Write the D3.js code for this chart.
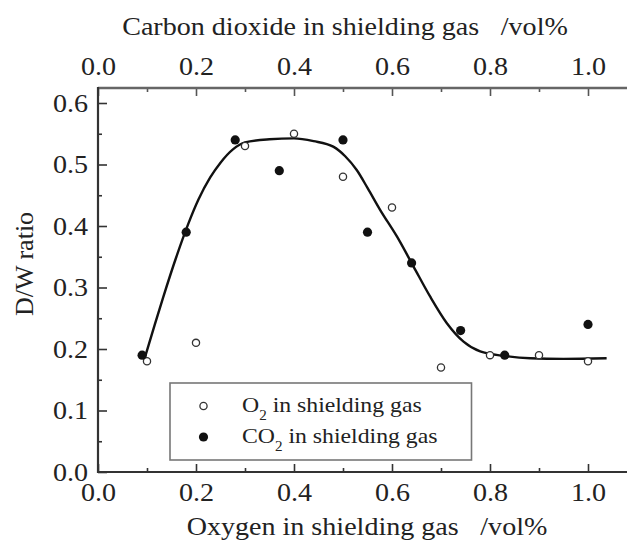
<!DOCTYPE html>
<html>
<head>
<meta charset="utf-8">
<script src="https://cdn.jsdelivr.net/npm/d3@7"></script>
<style>
  html, body { margin: 0; padding: 0; background: #fff; }
  svg { display: block; }
  text { font-family: "Liberation Serif", "Times New Roman", serif; fill: #222; }
</style>
</head>
<body>
<script>
// ---- data ----
const o2X = [0.1, 0.2, 0.3, 0.4, 0.5, 0.6, 0.7, 0.8, 0.9, 1.0];
const o2Y = [0.18, 0.21, 0.53, 0.55, 0.48, 0.43, 0.17, 0.19, 0.19, 0.18];
const co2X = [0.09, 0.18, 0.28, 0.37, 0.5, 0.55, 0.64, 0.74, 0.83, 1.0];
const co2Y = [0.19, 0.39, 0.54, 0.49, 0.54, 0.39, 0.34, 0.23, 0.19, 0.24];
const fitX = [0.096, 0.116, 0.133, 0.16, 0.184, 0.205, 0.229, 0.25, 0.276, 0.30, 0.35, 0.40, 0.44, 0.48, 0.505, 0.528, 0.55, 0.576, 0.61, 0.644, 0.678, 0.712, 0.746, 0.78, 0.827, 0.882, 0.95, 1.038];
const fitY = [0.187, 0.24, 0.284, 0.35, 0.403, 0.443, 0.479, 0.503, 0.525, 0.536, 0.541, 0.5425, 0.538, 0.529, 0.513, 0.491, 0.462, 0.426, 0.383, 0.334, 0.285, 0.242, 0.212, 0.196, 0.189, 0.185, 0.184, 0.185];
const xMajor = [0.0, 0.2, 0.4, 0.6, 0.8, 1.0];
const xMinor = [0.1, 0.3, 0.5, 0.7, 0.9];
const yMajor = [0.0, 0.1, 0.2, 0.3, 0.4, 0.5, 0.6];
const yMinor = [0.05, 0.15, 0.25, 0.35, 0.45, 0.55];
const topTitle = "Carbon dioxide in shielding gas";
const bottomTitle = "Oxygen in shielding gas";
const unitLabel = "/vol%";
const yTitle = "D/W ratio";
const legendItems = [
  { pre: "O", post: " in shielding gas", filled: false },
  { pre: "CO", post: " in shielding gas", filled: true }
];

// ---- layout ----
const W = 627, H = 541;
const L = 98, R = 637, T = 88, B = 472;
const SX = 1.08;
const FS = 26;

const svg = d3.select("body").append("svg").attr("width", W).attr("height", H);

const x = d3.scaleLinear().domain([0, 1.1]).range([L, R]);
const y = d3.scaleLinear().domain([0, (B - T) / 615]).range([B, T]);

function styleAxis(g, color) {
  g.select(".domain").remove();
  g.selectAll(".tick line").attr("stroke", color).attr("stroke-width", 1.6);
  g.selectAll(".tick text")
    .attr("font-size", FS)
    .attr("font-family", "Liberation Serif, serif")
    .attr("fill", "#222");
}

// bottom axis
const gb = svg.append("g").attr("transform", `translate(0,${B})`)
  .call(d3.axisBottom(x).tickValues(xMajor).tickSize(-8).tickPadding(11).tickFormat(d3.format(".1f")));
styleAxis(gb, "#333");
gb.selectAll(".tick text").attr("transform", `scale(${SX},1)`);
const gbm = svg.append("g").attr("transform", `translate(0,${B})`)
  .call(d3.axisBottom(x).tickValues(xMinor).tickSize(-4).tickFormat(""));
styleAxis(gbm, "#333");

// top axis
const gt = svg.append("g").attr("transform", `translate(0,${T})`)
  .call(d3.axisTop(x).tickValues(xMajor).tickSize(-8).tickPadding(13).tickFormat(d3.format(".1f")));
styleAxis(gt, "#555");
gt.selectAll(".tick text").attr("transform", `scale(${SX},1)`);
const gtm = svg.append("g").attr("transform", `translate(0,${T})`)
  .call(d3.axisTop(x).tickValues(xMinor).tickSize(-4).tickFormat(""));
styleAxis(gtm, "#555");

// left axis
const gl = svg.append("g").attr("transform", `translate(${L},0)`)
  .call(d3.axisLeft(y).tickValues(yMajor).tickSize(-9).tickPadding(10).tickFormat(d3.format(".1f")));
styleAxis(gl, "#333");
gl.selectAll(".tick text").each(function() {
  d3.select(this).attr("transform", `translate(${-10},0) scale(${SX},1) translate(${10},0)`);
});
const glm = svg.append("g").attr("transform", `translate(${L},0)`)
  .call(d3.axisLeft(y).tickValues(yMinor).tickSize(-4).tickFormat(""));
styleAxis(glm, "#333");

// axis lines
svg.append("line").attr("x1", L).attr("x2", W).attr("y1", B).attr("y2", B)
  .attr("stroke", "#333").attr("stroke-width", 2.2);
svg.append("line").attr("x1", L).attr("x2", W).attr("y1", T).attr("y2", T)
  .attr("stroke", "#666").attr("stroke-width", 2.4);
svg.append("line").attr("x1", L).attr("x2", L).attr("y1", T - 1).attr("y2", B + 1)
  .attr("stroke", "#333").attr("stroke-width", 2.2);

// titles
function stretchedText(cx, cy, parts, size, anchor) {
  const g = svg.append("g").attr("transform", `translate(${cx},${cy}) scale(${SX},1)`);
  const t = g.append("text").attr("font-size", size).attr("text-anchor", anchor || "middle");
  parts.forEach(p => {
    const ts = t.append("tspan").text(p.text);
    if (p.dx) ts.attr("dx", p.dx);
    if (p.dy) ts.attr("dy", p.dy);
    if (p.size) ts.attr("font-size", p.size);
  });
  return t;
}
stretchedText(345, 35, [{ text: topTitle }, { text: unitLabel, dx: 20 }], FS);
stretchedText(367, 535, [{ text: bottomTitle }, { text: unitLabel, dx: 20 }], FS);

svg.append("text")
  .attr("transform", `translate(33,264) rotate(-90)`)
  .attr("text-anchor", "middle")
  .attr("font-size", FS)
  .text(yTitle);

// fit curve
const line = d3.line().x((d, i) => x(fitX[i])).y((d, i) => y(fitY[i])).curve(d3.curveMonotoneX);
svg.append("path").datum(fitX).attr("d", line)
  .attr("fill", "none").attr("stroke", "#111").attr("stroke-width", 2.4);

// points
svg.append("g").selectAll("circle").data(o2X).join("circle")
  .attr("cx", (d) => x(d)).attr("cy", (d, i) => y(o2Y[i])).attr("r", 3.6)
  .attr("fill", "#fff").attr("stroke", "#333").attr("stroke-width", 1.3);
svg.append("g").selectAll("circle").data(co2X).join("circle")
  .attr("cx", (d) => x(d)).attr("cy", (d, i) => y(co2Y[i])).attr("r", 4.6)
  .attr("fill", "#111");

// legend
svg.append("rect").attr("x", 170).attr("y", 383).attr("width", 301.5).attr("height", 77)
  .attr("fill", "#fff").attr("stroke", "#777").attr("stroke-width", 1.6);
legendItems.forEach((it, i) => {
  const cy = 406 + i * 31;
  const c = svg.append("circle").attr("cx", 203.5).attr("cy", cy);
  if (it.filled) c.attr("r", 4.6).attr("fill", "#111");
  else c.attr("r", 3.6).attr("fill", "#fff").attr("stroke", "#333").attr("stroke-width", 1.3);
  stretchedText(242, cy + 6, [
    { text: it.pre },
    { text: "2", dy: 8, size: 14 },
    { text: it.post, dy: -8 }
  ], 22, "start");
});
</script>
</body>
</html>
